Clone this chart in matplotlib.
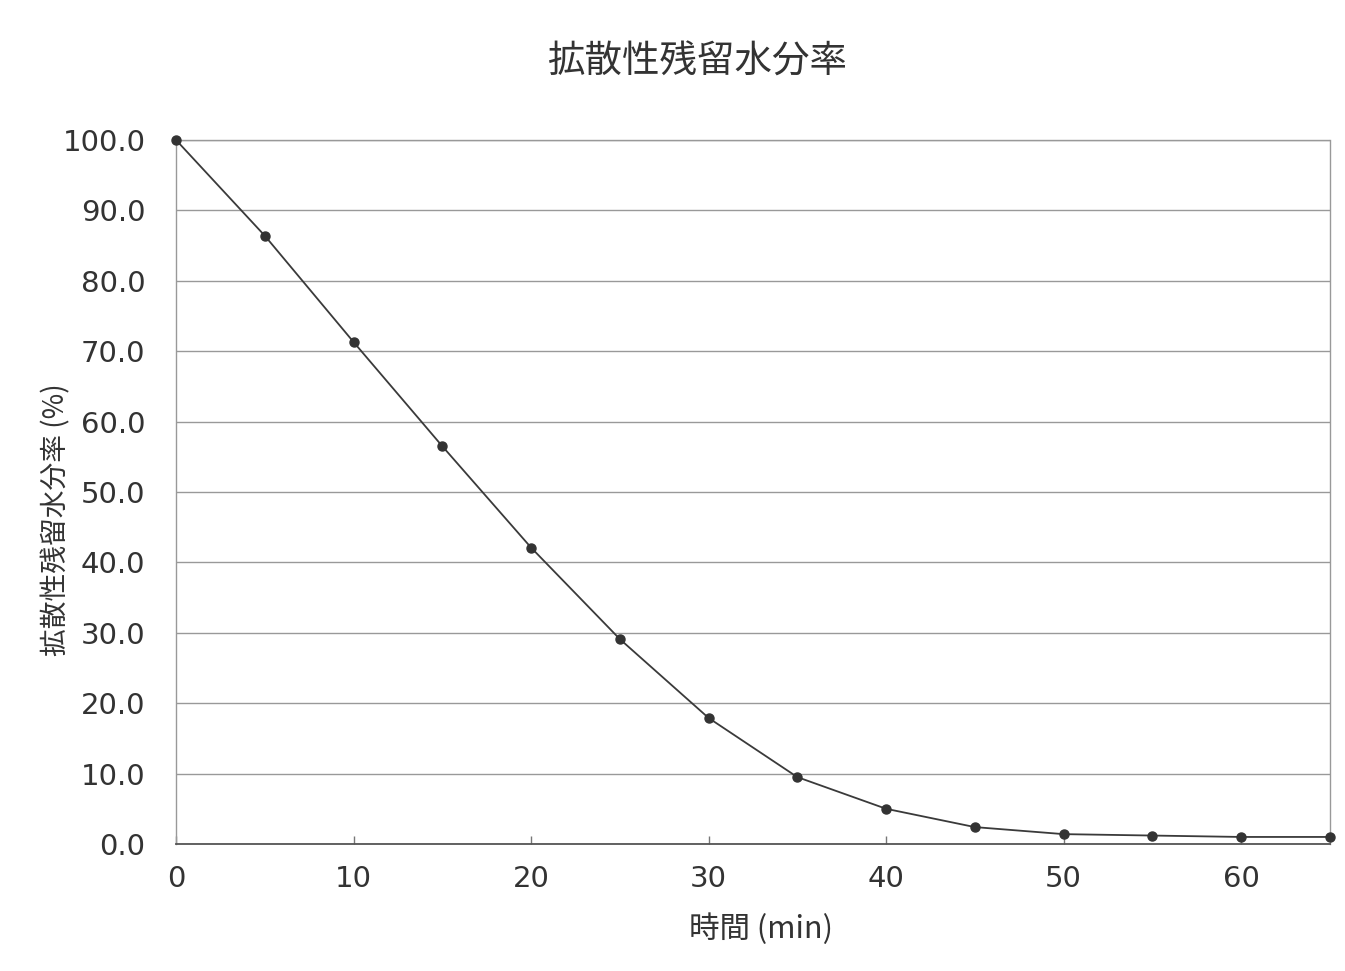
import matplotlib
matplotlib.use("Agg")
import matplotlib.pyplot as plt
import numpy as np

plt.rcParams['font.family'] = ['Noto Sans CJK JP', 'DejaVu Sans']

# data
minutes = [0, 5, 10, 15, 20, 25, 30, 35, 40, 45, 50, 55, 60, 65]
residual = [100.0, 86.4, 71.3, 56.5, 42.1, 29.1, 17.9, 9.5, 5.0, 2.4, 1.4, 1.2, 1.0, 1.0]
y_ticks = np.arange(0, 101, 10)
x_ticks = np.arange(0, 61, 10)

title = "拡散性残留水分率"
x_label = "時間 (min)"
y_label = "拡散性残留水分率 (%)"

text_col = "#333333"

fig = plt.figure(figsize=(13.45, 9.71), dpi=100)
ax = fig.add_axes([0.1309, 0.1308, 0.8579, 0.7250])

ax.plot(minutes, residual, color="#3a3a3a", linewidth=1.3,
        marker="o", markersize=6.5, markerfacecolor="#333333",
        markeredgecolor="#333333", zorder=3, clip_on=False)

ax.set_xlim(0, 65)
ax.set_ylim(0, 100)
ax.set_xticks(x_ticks)
ax.set_yticks(y_ticks)
ax.set_yticklabels([f"{v:.1f}" for v in y_ticks])

ax.yaxis.grid(True, color="#999999", linewidth=1.0)
ax.set_axisbelow(True)

for side in ["left", "right", "top"]:
    ax.spines[side].set_color("#999999")
    ax.spines[side].set_linewidth(1.0)
ax.spines["top"].set_linestyle((0, (2, 1)))
ax.spines["bottom"].set_color("#555555")
ax.spines["bottom"].set_linewidth(1.3)

ax.tick_params(axis="x", direction="in", length=6, width=1, color="#777777",
               labelcolor=text_col, pad=15)
ax.tick_params(axis="y", length=0, labelcolor=text_col, pad=22)
for lbl in ax.get_xticklabels() + ax.get_yticklabels():
    lbl.set_fontfamily("DejaVu Sans")
    lbl.set_fontsize(21)

fig.text(0.518, 0.936, title, fontsize=27, color=text_col,
         ha="center", va="center")
fig.text(0.566, 0.043, x_label, fontsize=22, color=text_col,
         ha="center", va="center")
fig.text(0.042, 0.465, y_label, fontsize=20, color=text_col,
         ha="center", va="center", rotation=90)

fig.savefig("out.png", dpi=100, facecolor="white")
